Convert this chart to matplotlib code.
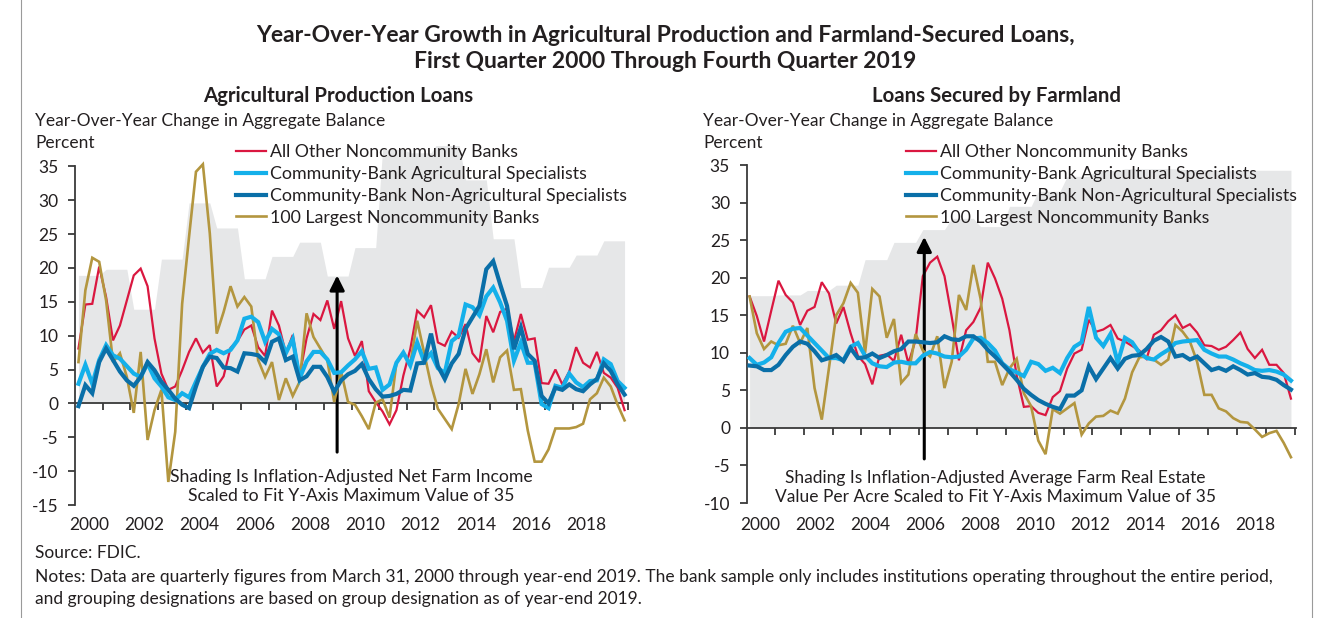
import numpy as np
import matplotlib.pyplot as plt

plt.rcParams['font.family'] = ['Lato', 'DejaVu Sans']
plt.rcParams['axes.unicode_minus'] = False

# Colours used in the chart
RED = '#DA1740'
LIGHT = '#14B0EA'
DARK = '#0A6FA8'
GOLD = '#B3963F'
SHADE = '#E6E7E8'
INK = '#231F20'

# Left panel: quarterly, Q1 2000 - Q4 2019 (80 quarters)
left_other = [8.1, 14.6, 14.7, 20.2, 15.7, 9.3, 11.5, 15.2, 18.9, 19.9, 17.3, 9.6, 4.4, 2.0, 2.5, 4.9, 7.6, 9.6, 7.5, 8.6,
              2.5, 4.0, 8.2, 9.2, 10.9, 11.5, 8.3, 7.0, 13.7, 11.5, 7.4, 10.1, 4.1, 9.6, 13.2, 12.3, 15.2, 11.0, 15.1, 9.6,
              7.0, 9.2, 1.8, 0.2, -1.2, -3.1, -1.0, 4.1, 8.0, 13.7, 12.7, 14.5, 9.0, 8.5, 10.6, 9.7, 11.7, 7.4, 6.1, 12.9,
              10.5, 13.5, 14.0, 9.2, 13.2, 9.4, 9.6, 3.0, 2.9, 5.0, 2.8, 4.7, 8.3, 6.0, 5.3, 7.6, 4.5, 3.8, 2.3, -1.0]
left_ag = [2.9, 5.7, 2.9, 6.4, 8.6, 7.1, 6.6, 5.5, 4.4, 3.9, 5.9, 3.7, 2.5, 0.9, 0.5, 1.5, 0.9, 3.2, 5.4, 7.3,
           7.9, 7.4, 7.9, 9.3, 12.5, 12.8, 12.0, 9.1, 11.0, 10.2, 7.4, 9.5, 3.7, 6.2, 7.6, 7.6, 6.5, 4.5, 4.6, 5.6,
           6.5, 7.7, 5.1, 5.3, 2.0, 2.8, 6.0, 7.5, 5.6, 9.0, 6.2, 7.4, 5.2, 4.5, 9.2, 10.0, 14.6, 14.2, 13.0, 15.8,
           17.1, 14.9, 12.2, 6.3, 9.0, 6.0, 6.0, -0.1, -0.7, 2.6, 2.3, 4.4, 3.1, 2.4, 3.3, 3.4, 6.5, 5.8, 3.3, 2.3]
left_nonag = [-0.4, 2.7, 1.5, 6.1, 8.1, 6.4, 4.7, 3.4, 2.6, 3.9, 6.1, 4.9, 3.2, 2.0, 0.7, -0.2, -0.7, 2.5, 5.4, 6.9,
              6.7, 5.3, 5.2, 4.7, 7.4, 7.3, 7.1, 6.1, 9.1, 9.6, 6.4, 6.9, 3.4, 4.0, 5.4, 5.4, 3.9, 1.7, 3.4, 4.3,
              4.8, 5.8, 3.6, 2.1, 1.0, 1.1, 1.4, 2.0, 1.9, 5.9, 6.0, 10.3, 5.5, 3.6, 5.9, 7.3, 11.0, 12.7, 14.4, 19.8,
              21.0, 17.6, 14.4, 8.0, 11.2, 7.3, 6.3, 1.1, 0.0, 2.3, 2.0, 2.8, 2.1, 1.8, 2.8, 3.6, 5.9, 4.8, 2.8, 1.3]
left_largest = [6.1, 16.7, 21.5, 20.9, 15.2, 6.1, 7.4, 3.9, -1.4, 7.6, -5.4, -1.0, 2.0, -11.6, -4.2, 14.7, 24.6, 34.2, 35.3, 25.1,
                10.3, 13.5, 17.3, 14.3, 15.7, 14.3, 6.4, 3.9, 6.1, 0.5, 3.7, 1.1, 3.2, 13.3, 9.8, 8.1, 6.4, 0.2, 4.7, 0.2,
                -0.2, -1.9, -3.8, 0.1, 0.6, -2.1, 6.0, 7.5, 5.8, 12.2, 7.5, 2.8, -0.8, -2.3, -3.8, -0.1, 5.1, 1.4, 4.3, 8.0,
                3.1, 6.8, 7.8, 2.0, 2.1, -4.0, -8.6, -8.6, -6.8, -3.7, -3.7, -3.7, -3.5, -3.0, 0.6, 1.5, 3.8, 2.5, -0.2, -2.5]
# scaled net farm income, one value per year 2000-2019
left_shade_years = [18.9, 19.8, 13.9, 21.3, 29.6, 25.9, 18.4, 21.7, 23.8, 18.8,
                    23.0, 37.5, 37.0, 38.5, 33.0, 24.3, 17.1, 20.1, 21.9, 24.0]

# Right panel: 76 quarterly points
right_other = [17.5, 14.9, 11.5, 15.6, 19.6, 17.7, 16.7, 13.7, 15.6, 16.1, 19.4, 17.9, 13.9, 16.1, 12.6, 9.6, 8.5, 5.8, 9.6, 9.8,
               8.9, 12.4, 8.6, 11.7, 20.2, 22.0, 22.8, 20.2, 14.8, 9.0, 13.0, 14.1, 16.0, 22.0, 19.9, 17.2, 13.0, 7.0, 2.8, 2.9,
               2.0, 1.7, 4.1, 4.9, 7.9, 9.9, 10.4, 14.4, 12.8, 13.1, 13.7, 11.9, 11.5, 10.9, 10.3, 9.2, 12.4, 13.0, 14.2, 15.0,
               13.3, 13.8, 12.7, 11.0, 10.9, 10.4, 10.8, 11.7, 12.7, 10.5, 9.3, 10.4, 8.4, 8.4, 7.3, 3.9]
right_ag = [9.3, 8.4, 8.7, 9.4, 11.3, 12.8, 13.2, 13.3, 12.3, 11.3, 10.3, 9.3, 9.3, 9.0, 10.8, 11.3, 9.6, 8.6, 8.2, 8.1,
            8.7, 8.8, 8.6, 8.6, 9.6, 10.1, 9.9, 9.5, 9.4, 9.5, 10.4, 11.9, 12.0, 11.3, 10.3, 8.6, 7.8, 7.4, 6.9, 8.8,
            8.5, 7.6, 8.0, 7.3, 9.3, 10.8, 11.4, 16.1, 12.0, 10.9, 12.5, 8.7, 12.0, 11.4, 10.0, 9.3, 9.1, 9.8, 10.4, 11.3,
            11.5, 11.6, 11.7, 10.4, 9.9, 9.5, 9.5, 9.1, 8.6, 8.2, 7.7, 7.6, 7.7, 7.5, 7.1, 6.3]
right_nonag = [8.3, 8.2, 7.7, 7.7, 8.4, 9.7, 10.8, 11.5, 11.2, 10.2, 9.0, 9.3, 9.7, 8.9, 10.6, 9.3, 9.4, 9.9, 9.3, 9.7,
               10.2, 10.5, 11.5, 11.5, 11.4, 11.3, 11.4, 12.2, 11.8, 11.7, 12.2, 12.2, 11.5, 10.4, 9.5, 8.5, 7.5, 6.4, 5.2, 4.4,
               3.7, 3.2, 2.8, 2.5, 4.3, 4.3, 5.0, 8.2, 6.5, 7.9, 9.3, 7.9, 9.2, 9.6, 9.7, 10.5, 11.6, 12.1, 11.5, 9.5,
               9.7, 9.1, 9.5, 8.6, 7.7, 8.0, 7.6, 8.2, 7.7, 7.1, 7.3, 6.8, 6.7, 6.4, 5.7, 5.1]
right_largest = [17.5, 12.6, 10.5, 11.5, 11.0, 11.2, 13.6, 11.3, 13.3, 5.3, 1.1, 8.0, 15.0, 16.6, 19.3, 18.0, 10.0, 18.5, 17.5, 12.0,
                 14.5, 6.0, 7.1, 12.5, 10.3, 9.5, 12.2, 5.3, 8.8, 17.7, 15.7, 21.7, 17.2, 8.8, 8.8, 5.7, 7.9, 9.2, 4.6, 2.9,
                 -1.7, -3.5, 2.5, 1.9, 2.6, 3.3, -0.9, 0.6, 1.5, 1.6, 2.3, 1.9, 3.9, 7.4, 9.4, 9.5, 9.1, 8.4, 9.1, 13.7,
                 12.8, 11.5, 8.8, 4.4, 4.4, 2.6, 2.2, 1.3, 0.8, 0.7, -0.2, -1.2, -0.7, -0.4, -2.0, -3.9]
# scaled farm real estate value, one value per group of four points
right_shade_years = [17.6, 17.7, 18.3, 19.0, 22.4, 24.7, 26.4, 27.9, 26.8, 29.5,
                     31.5, 33.5, 34.3, 34.5, 34.5, 34.4, 34.3, 34.3, 34.3]

years = list(range(2000, 2020))
labels = ['All Other Noncommunity Banks', 'Community-Bank Agricultural Specialists',
          'Community-Bank Non-Agricultural Specialists', '100 Largest Noncommunity Banks']

W, H = 1317, 618
FS = 12.5


def fx(px):
    return px / W


def fy(py):
    return 1 - py / H


def draw_lines(ax, x, series):
    styles = [(RED, 1.6, 3), (LIGHT, 3.0, 4), (DARK, 3.0, 5), (GOLD, 1.9, 3.5)]
    for ys, lab, (c, lw, z) in zip(series, labels, styles):
        ax.plot(x, ys, color=c, lw=lw, label=lab, zorder=z, solid_joinstyle='miter')


def style_axis(ax, ymin):
    for s in ['top', 'right']:
        ax.spines[s].set_visible(False)
    ax.spines['left'].set_bounds(ymin, 35)
    ax.spines['bottom'].set_position(('data', 0))
    for s in ['left', 'bottom']:
        ax.spines[s].set_color('#3a3a3a')
        ax.spines[s].set_linewidth(1.3)
    ax.set_yticks(np.arange(ymin, 36, 5))
    ax.tick_params(axis='y', direction='out', length=5, width=1.3, color='#3a3a3a',
                   labelsize=FS, labelcolor=INK, pad=7)
    ax.tick_params(axis='x', direction='out', length=5, width=1.3, color='#3a3a3a',
                   labelbottom=False)
    ax.set_facecolor('none')


def add_legend(ax, x_px):
    ax.legend(loc='upper left', bbox_to_anchor=(fx(x_px), fy(144)), bbox_transform=fig.transFigure,
              frameon=False, fontsize=12.8, handlelength=1.7, handletextpad=0.2, labelspacing=0.33,
              borderpad=0, borderaxespad=0, labelcolor=INK)


fig = plt.figure(figsize=(W / 100, H / 100), dpi=100)

# ---- left panel
axl = fig.add_axes([fx(75), fy(505), fx(628) - fx(75), fy(146) - fy(505)])
xl = 2000 + (np.arange(80) + 0.5) / 4
axl.fill_between(xl, 0, np.repeat(left_shade_years, 4), color=SHADE, lw=0, zorder=1)
draw_lines(axl, xl, [left_other, left_ag, left_nonag, left_largest])
axl.set_xlim(2000, 2020)
axl.set_ylim(-15, 38)
style_axis(axl, -15)
axl.set_xticks(range(2001, 2021))
for y in years[::2]:
    axl.text(y + 0.5, -17.9, str(y), ha='center', va='center', fontsize=FS, color=INK)
axl.annotate('', xy=(2009.48, 19.3), xytext=(2009.48, -7.6),
             arrowprops=dict(arrowstyle='-|>', color='black', lw=2.2, mutation_scale=22))
axl.text(2010.0, -12.3, 'Shading Is Inflation-Adjusted Net Farm Income\nScaled to Fit Y-Axis Maximum Value of 35',
         ha='center', va='center', fontsize=12.7, color=INK, linespacing=1.2)
add_legend(axl, 236)

# ---- right panel
axr = fig.add_axes([fx(746.7), fy(503), fx(1296) - fx(746.7), fy(150) - fy(503)])
xr = np.arange(76)
axr.fill_between(xr, 0, np.repeat(right_shade_years, 4), color=SHADE, lw=0, zorder=1)
draw_lines(axr, xr, [right_other, right_ag, right_nonag, right_largest])
axr.set_xlim(-0.4, 75.7)
axr.set_ylim(-10, 37)
style_axis(axr, -10)
axr.set_xticks(np.arange(3.5, 76, 4))
slot = 76.1 / 20
for k, y in enumerate(years):
    if y % 2 == 0:
        axr.text(-0.4 + (k + 0.5) * slot, -12.9, str(y), ha='center', va='center', fontsize=FS, color=INK)
axr.annotate('', xy=(24.2, 25.8), xytext=(24.2, -4.5),
             arrowprops=dict(arrowstyle='-|>', color='black', lw=2.2, mutation_scale=22))
axr.text(34.0, -7.9, 'Shading Is Inflation-Adjusted Average Farm Real Estate\nValue Per Acre Scaled to Fit Y-Axis Maximum Value of 35',
         ha='center', va='center', fontsize=12.5, color=INK, linespacing=1.2)
add_legend(axr, 906)

# ---- titles and notes
fig.text(fx(665), fy(35), 'Year-Over-Year Growth in Agricultural Production and Farmland-Secured Loans,',
         ha='center', va='center', fontsize=16.5, fontweight='bold', color=INK)
fig.text(fx(665), fy(62), 'First Quarter 2000 Through Fourth Quarter 2019',
         ha='center', va='center', fontsize=16.5, fontweight='bold', color=INK)
fig.text(fx(338), fy(96), 'Agricultural Production Loans', ha='center', va='center',
         fontsize=14.7, fontweight='bold', color=INK)
fig.text(fx(997), fy(96), 'Loans Secured by Farmland', ha='center', va='center',
         fontsize=14.7, fontweight='bold', color=INK)
for x0 in (35, 703):
    fig.text(fx(x0), fy(121), 'Year-Over-Year Change in Aggregate Balance', ha='left', va='center',
             fontsize=FS, color=INK)
    fig.text(fx(x0), fy(143), 'Percent', ha='left', va='center', fontsize=FS, color=INK)

fig.text(fx(35), fy(553), 'Source: FDIC.', ha='left', va='center', fontsize=FS, color=INK)
fig.text(fx(35), fy(577), 'Notes: Data are quarterly figures from March 31, 2000 through year-end 2019. '
         'The bank sample only includes institutions operating throughout the entire period,',
         ha='left', va='center', fontsize=FS, color=INK)
fig.text(fx(35), fy(599), 'and grouping designations are based on group designation as of year-end 2019.',
         ha='left', va='center', fontsize=FS, color=INK)

# thin frame lines at the figure sides
fig.add_artist(plt.Line2D([fx(21), fx(21)], [0, 1], color='#9a9a9a', lw=0.8))
fig.add_artist(plt.Line2D([fx(1312), fx(1312)], [0, 1], color='#9a9a9a', lw=0.8))

fig.savefig('out.png', dpi=100)
